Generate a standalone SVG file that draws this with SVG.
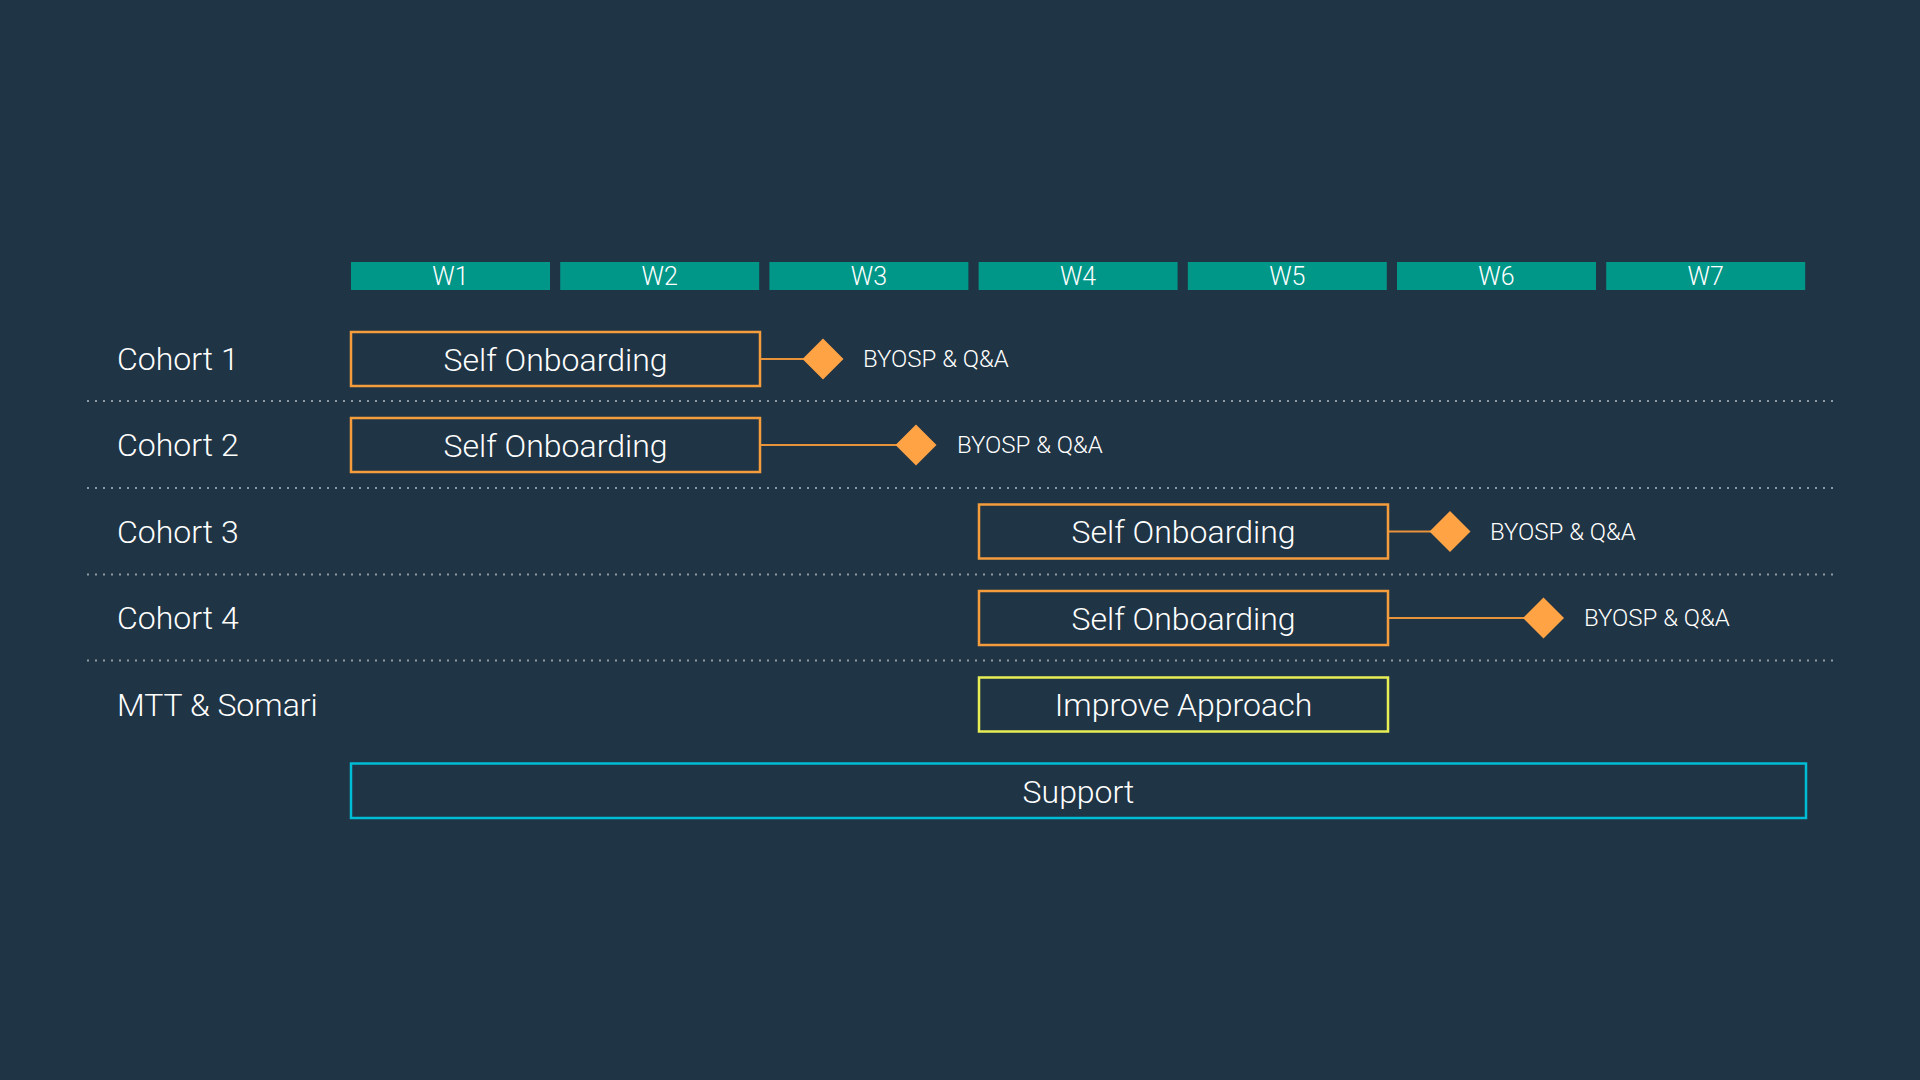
<svg xmlns="http://www.w3.org/2000/svg" width="1920" height="1080" viewBox="0 0 1920 1080">
<defs>
<style>
.bg{fill:#1F3444}
.wk{fill:#009688}
.wt{font-family:"Roboto Light",Roboto,"Liberation Sans",sans-serif;font-weight:300;font-size:25px;fill:#FFFFFF;text-anchor:middle}
.rl{font-family:"Roboto Light",Roboto,"Liberation Sans",sans-serif;font-weight:300;font-size:32px;fill:#FFFFFF}
.bt{font-family:"Roboto Light",Roboto,"Liberation Sans",sans-serif;font-weight:300;font-size:32px;fill:#FFFFFF;text-anchor:middle}
.ml{font-family:"Roboto Light",Roboto,"Liberation Sans",sans-serif;font-weight:300;font-size:24px;fill:#FFFFFF}
.task{fill:none;stroke:#F59C3C;stroke-width:2.5}
.imp{fill:none;stroke:#E8EE55;stroke-width:2.5}
.sup{fill:none;stroke:#00BCD4;stroke-width:2.5}
.dia{fill:#FFA345}
.con{stroke:#E8923A;stroke-width:2;fill:none}
.sep{stroke:#8E9AA4;stroke-width:2;stroke-dasharray:2 6}
</style>
</defs>
<rect class="bg" x="0" y="0" width="1920" height="1080"/>

<g id="weeks">
<g id="w1"><rect class="wk" x="351" y="262" width="199" height="28"/><text class="wt" x="450.5" y="285">W1</text></g>
<g id="w2"><rect class="wk" x="560.2" y="262" width="199" height="28"/><text class="wt" x="659.7" y="285">W2</text></g>
<g id="w3"><rect class="wk" x="769.4" y="262" width="199" height="28"/><text class="wt" x="868.9" y="285">W3</text></g>
<g id="w4"><rect class="wk" x="978.6" y="262" width="199" height="28"/><text class="wt" x="1078.1" y="285">W4</text></g>
<g id="w5"><rect class="wk" x="1187.8" y="262" width="199" height="28"/><text class="wt" x="1287.3" y="285">W5</text></g>
<g id="w6"><rect class="wk" x="1397" y="262" width="199" height="28"/><text class="wt" x="1496.5" y="285">W6</text></g>
<g id="w7"><rect class="wk" x="1606.2" y="262" width="199" height="28"/><text class="wt" x="1705.7" y="285">W7</text></g>
</g>

<g id="separators">
<line class="sep" x1="87" y1="401" x2="1833" y2="401"/>
<line class="sep" x1="87" y1="488" x2="1833" y2="488"/>
<line class="sep" x1="87" y1="574.5" x2="1833" y2="574.5"/>
<line class="sep" x1="87" y1="660.5" x2="1833" y2="660.5"/>
</g>

<g id="row-labels">
<text id="label-cohort1" class="rl" x="117" y="370">Cohort 1</text>
<text id="label-cohort2" class="rl" x="117" y="456">Cohort 2</text>
<text id="label-cohort3" class="rl" x="117" y="542.5">Cohort 3</text>
<text id="label-cohort4" class="rl" x="117" y="629">Cohort 4</text>
<text id="label-mtt" class="rl" x="117" y="716">MTT &amp; Somari</text>
</g>

<g id="connectors">
<line class="con" x1="760" y1="359" x2="806" y2="359"/>
<line class="con" x1="760" y1="445" x2="899" y2="445"/>
<line class="con" x1="1388" y1="531.5" x2="1433" y2="531.5"/>
<line class="con" x1="1388" y1="618" x2="1526" y2="618"/>
</g>

<g id="cohort1-task"><rect class="task" x="351" y="332" width="409" height="54"/><text class="bt" x="555.5" y="370.5">Self Onboarding</text></g>
<g id="cohort1-milestone"><polygon class="dia" points="823,338.5 843.5,359 823,379.5 802.5,359"/><text class="ml" x="863" y="367">BYOSP &amp; Q&amp;A</text></g>

<g id="cohort2-task"><rect class="task" x="351" y="418" width="409" height="54"/><text class="bt" x="555.5" y="456.5">Self Onboarding</text></g>
<g id="cohort2-milestone"><polygon class="dia" points="916,424.5 936.5,445 916,465.5 895.5,445"/><text class="ml" x="957" y="453">BYOSP &amp; Q&amp;A</text></g>

<g id="cohort3-task"><rect class="task" x="979" y="504.5" width="409" height="54"/><text class="bt" x="1183.5" y="543">Self Onboarding</text></g>
<g id="cohort3-milestone"><polygon class="dia" points="1450,511 1470.5,531.5 1450,552 1429.5,531.5"/><text class="ml" x="1490" y="539.5">BYOSP &amp; Q&amp;A</text></g>

<g id="cohort4-task"><rect class="task" x="979" y="591" width="409" height="54"/><text class="bt" x="1183.5" y="629.5">Self Onboarding</text></g>
<g id="cohort4-milestone"><polygon class="dia" points="1543.5,597.5 1564,618 1543.5,638.5 1523,618"/><text class="ml" x="1584" y="626">BYOSP &amp; Q&amp;A</text></g>

<g id="mtt-task"><rect class="imp" x="979" y="677.5" width="409" height="54"/><text class="bt" x="1183.5" y="716">Improve Approach</text></g>

<g id="support-task"><rect class="sup" x="351" y="763.5" width="1455" height="54.5"/><text class="bt" x="1078.5" y="803">Support</text></g>
</svg>
